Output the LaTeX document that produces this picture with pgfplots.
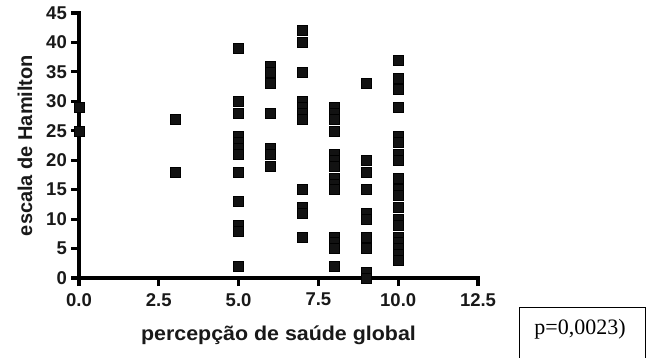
\documentclass[border=0pt]{standalone}
\usepackage{pgfplots}
\pgfplotsset{compat=1.18}
\usepackage{fontspec}
\setmainfont{Liberation Sans}
\newfontfamily\timesfont{Liberation Serif}
\newcommand\tf[1]{\fontsize{18.5}{22}\selectfont\bfseries #1}
\begin{document}
\begin{tikzpicture}[x=1pt,y=1pt]
\path[use as bounding box] (0,0) rectangle (661,357);
\begin{axis}[
  at={(79pt,79pt)}, anchor=origin,
  scale only axis, width=399pt, height=265pt,
  xmin=0, xmax=12.5, ymin=0, ymax=45,
  axis lines*=left,
  axis line style={line width=3.4pt, line cap=rect},
  every tick/.append style={black, line width=3.2pt},
  tick align=outside, major tick length=8pt,
  xtick={0,2.5,5,7.5,10,12.5},
  xticklabels={\tf{0.0},\tf{2.5},\tf{5.0},\tf{7.5},\tf{10.0},\tf{12.5}},
  ytick={0,5,...,45},
  yticklabels={\tf{0},\tf{5},\tf{10},\tf{15},\tf{20},\tf{25},\tf{30},\tf{35},\tf{40},\tf{45}},
  xticklabel style={text=black!90, inner sep=1pt, yshift=-6pt},
  yticklabel style={text=black!90, inner sep=1pt, xshift=-3pt},
  xlabel={percepção de saúde global},
  ylabel={escala de Hamilton},
  label style={font=\fontsize{20}{24}\selectfont\bfseries, text=black!90},
  xlabel style={at={(axis description cs:0.5,0)}, anchor=center, yshift=-57pt, xscale=1.07},
  ylabel style={at={(axis description cs:0,0.5)}, anchor=center, yshift=54pt},
  clip=false,
]
\addplot[only marks, mark=square*, mark size=5pt, mark options={fill=black!93, draw=none}] coordinates {
(0,29) (0,25)
(3,27) (3,18)
(5,39) (5,30) (5,28) (5,24) (5,23) (5,22) (5,21) (5,18) (5,13) (5,9) (5,8) (5,2)
(6,36) (6,35) (6,33) (6,28) (6,22) (6,21) (6,19)
(7,42) (7,40) (7,35) (7,30) (7,29) (7,28) (7,27) (7,15) (7,12) (7,11) (7,7)
(8,29) (8,28) (8,27) (8,25) (8,21) (8,20) (8,19) (8,17) (8,16) (8,15) (8,7) (8,6) (8,5) (8,2)
(9,33) (9,20) (9,18) (9,15) (9,11) (9,10) (9,7) (9,5) (9,1) (9,0)
(10,37) (10,34) (10,32) (10,29) (10,24) (10,23) (10,21) (10,20) (10,17) (10,15) (10,14) (10,12) (10,10) (10,9) (10,7) (10,6) (10,5) (10,4) (10,3)
};
\end{axis}
\draw[line width=0.8pt] (519,-5) -- (519,49.5) -- (645,49.5) -- (645,-5);
\node[font=\timesfont\fontsize{22}{26}\selectfont] at (580,28) {p=0,0023)};
\end{tikzpicture}
\end{document}
